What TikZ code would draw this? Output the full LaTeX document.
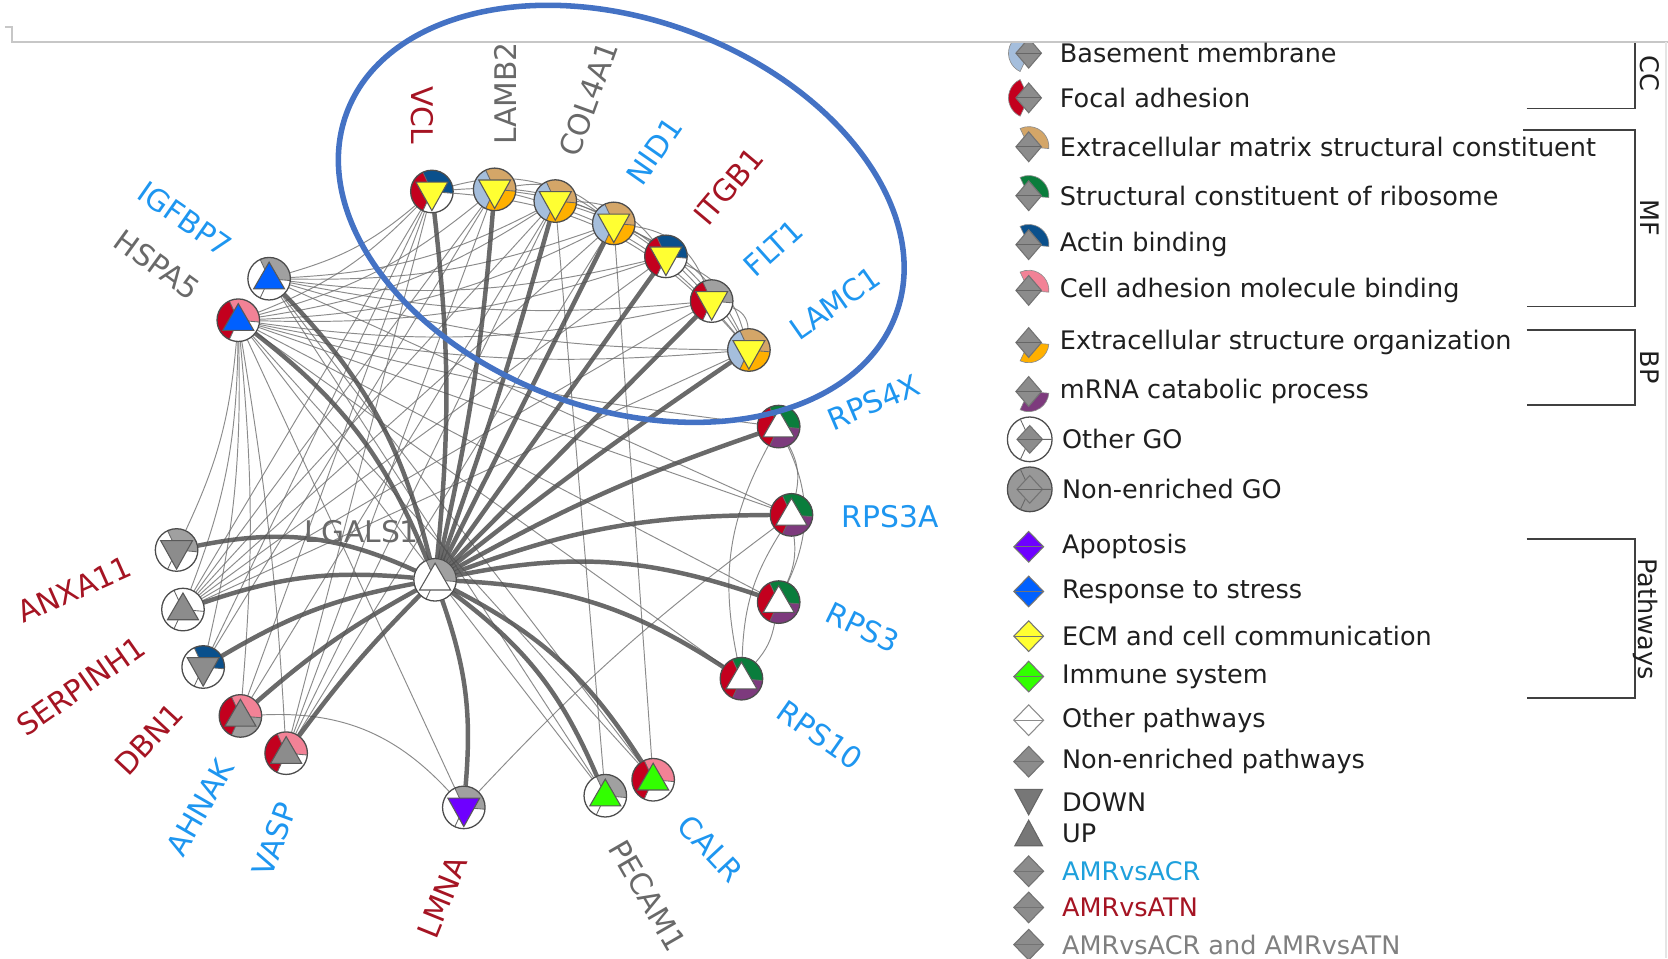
\documentclass[tikz,border=0pt]{standalone}
\usepackage{fontspec}
\setmainfont{DejaVu Sans}
\definecolor{lblue}{RGB}{30,150,240}
\definecolor{dred}{RGB}{165,20,35}
\definecolor{lgray}{RGB}{105,105,105}
\definecolor{cBM}{RGB}{165,190,220}
\definecolor{cFA}{RGB}{195,0,30}
\definecolor{cECM}{RGB}{212,166,104}
\definecolor{cRIB}{RGB}{10,125,60}
\definecolor{cACT}{RGB}{10,80,140}
\definecolor{cCAM}{RGB}{242,130,150}
\definecolor{cECS}{RGB}{255,176,0}
\definecolor{cMRNA}{RGB}{125,58,125}
\definecolor{cNE}{RGB}{160,160,160}
\definecolor{pAPO}{RGB}{110,0,255}
\definecolor{pSTR}{RGB}{0,96,255}
\definecolor{pECM}{RGB}{255,255,50}
\definecolor{pIMM}{RGB}{50,255,0}
\definecolor{pNE}{RGB}{140,140,140}
\definecolor{ellblue}{RGB}{68,114,196}
\definecolor{acr}{RGB}{30,160,220}
\definecolor{edgeA}{RGB}{110,110,110}
\definecolor{edgeB}{RGB}{80,80,80}
\tikzset{
  gn/.style={circle, minimum size=20pt, inner sep=0pt},
  thinedge/.style={draw=edgeA, line width=0.45pt, opacity=0.8},
  thickedge/.style={draw=edgeB, line width=2.1pt, opacity=0.85},
  lab/.style={font=\fontsize{14}{16}\selectfont, inner sep=0pt},
  leg/.style={font=\fontsize{12}{14}\selectfont, anchor=west, inner sep=0pt, text=black!88},
  secl/.style={draw=black!60, line width=0.4pt},
  tril/.style={draw=black!65, line width=0.5pt},
  ring/.style={draw=black!70, line width=0.6pt},
  dia/.style={fill=pNE, draw=black!55, line width=0.5pt},
  dial/.style={draw=black!60, line width=0.5pt},
  brk/.style={draw=black!75, line width=0.8pt},
  frm/.style={draw=black!22, line width=0.7pt}
}
\newcommand{\gly}[6]{%
\begin{scope}[shift={(#1.center)}, x=1pt, y=1pt]
\fill[#2] (0,0) -- (-5:10) arc[start angle=-5, end angle=115, radius=10] -- cycle;
\fill[#3] (0,0) -- (115:10) arc[start angle=115, end angle=245, radius=10] -- cycle;
\fill[#4] (0,0) -- (245:10) arc[start angle=245, end angle=355, radius=10] -- cycle;
\draw[secl] (0,0) -- (-5:10) (0,0) -- (115:10) (0,0) -- (245:10);
\if#5u\filldraw[fill=#6, tril] (0,7.8) -- (-7.3,-4.8) -- (7.3,-4.8) -- cycle;
\else\filldraw[fill=#6, tril] (-7.5,4.4) -- (7.5,4.4) -- (0,-9) -- cycle;\fi
\draw[ring] (0,0) circle[radius=10];
\end{scope}}
\newcommand{\goicon}[4]{%
\begin{scope}[shift={(967,#1)}, x=1pt, y=1pt]
\filldraw[fill=#2, draw=black!45, line width=0.3pt] (0,0) -- (#3:9.5) arc[start angle=#3, end angle=#4, radius=9.5] -- cycle;
\filldraw[dia] (0,7) -- (6,0) -- (0,-7) -- (-6,0) -- cycle;
\draw[dial] (-6,0) -- (6,0);
\end{scope}}
\newcommand{\pwicon}[3]{%
\begin{scope}[shift={(967,#1)}, x=1pt, y=1pt]
\filldraw[fill=#2, draw=#3, line width=0.5pt] (0,7.2) -- (7,0) -- (0,-7.2) -- (-7,0) -- cycle;
\draw[draw=#3, line width=0.5pt] (-7,0) -- (7,0);
\end{scope}}
\begin{document}
\begin{tikzpicture}[x=0.5pt, y=-0.5pt]
\useasboundingbox (0,0) rectangle (1568,901);
% frame lines
\draw[frm] (4.7,25.4) -- (11.3,25.4) -- (11.3,39.5) -- (1568,39.5);
\draw[draw=black!10, line width=0.6pt] (1566,39.5) -- (1566,901);
% network nodes
\foreach \n/\x/\y in {VCL/406/180, LAMB2/465/178, COL4A1/522/189, NID1/577/210, ITGB1/626/241, FLT1/669/283, LAMC1/704/329,
  IGFBP7/253/262, HSPA5/224/301, ANXA11/166/517, SERPINH1/172/573, DBN1/191/627, AHNAK/226/673, VASP/269/708,
  LMNA/436/759, PECAM1/569/748, CALR/614/733, RPS10/697/638, RPS3/732/566, RPS3A/744/484, RPS4X/732/401, LGALS1/409/545}
  \node[gn] (\n) at (\x,\y) {};
% thin edges
\foreach \a/\b/\c in {HSPA5/VCL/-12, HSPA5/LAMB2/-12, HSPA5/COL4A1/-12, HSPA5/NID1/-12, HSPA5/ITGB1/-10, HSPA5/FLT1/-10, HSPA5/LAMC1/-8,
  HSPA5/RPS4X/-4, HSPA5/RPS3A/0, HSPA5/RPS3/0, HSPA5/RPS10/0, HSPA5/LMNA/0, HSPA5/CALR/0, HSPA5/PECAM1/0,
  HSPA5/ANXA11/10, HSPA5/SERPINH1/10, HSPA5/DBN1/7, HSPA5/AHNAK/5, HSPA5/VASP/3,
  IGFBP7/VCL/-12, IGFBP7/COL4A1/-12, IGFBP7/NID1/-10, IGFBP7/ITGB1/-10, IGFBP7/FLT1/-8, IGFBP7/LAMC1/-8, IGFBP7/RPS3A/0, IGFBP7/PECAM1/0, IGFBP7/CALR/0,
  SERPINH1/VCL/0, SERPINH1/LAMB2/0, SERPINH1/COL4A1/0, SERPINH1/NID1/0, SERPINH1/ITGB1/0, SERPINH1/FLT1/0, SERPINH1/LAMC1/0,
  DBN1/VCL/0, DBN1/LAMB2/0, AHNAK/VCL/0, AHNAK/COL4A1/0, AHNAK/LMNA/25, VASP/VCL/0, VASP/LAMB2/0, VASP/COL4A1/0, VASP/NID1/0,
  PECAM1/COL4A1/0, CALR/NID1/0, LMNA/RPS3A/5,
  VCL/ITGB1/20, VCL/LAMC1/22, VCL/NID1/25, LAMB2/NID1/25, LAMB2/FLT1/20, LAMB2/LAMC1/18, COL4A1/ITGB1/25, COL4A1/LAMC1/20,
  NID1/LAMC1/20, ITGB1/LAMC1/25, FLT1/LAMC1/35, NID1/FLT1/30,
  RPS4X/RPS3A/20, RPS4X/RPS3/25, RPS4X/RPS10/-20, RPS3A/RPS3/15, RPS3A/RPS10/-15, RPS3/RPS10/15}
  \draw[thinedge] (\a) to[bend left=\c] (\b);
% thick edges
\foreach \b/\c in {VCL/-6, LAMB2/-4, COL4A1/-2, NID1/0, ITGB1/0, FLT1/0, LAMC1/2, IGFBP7/-15, HSPA5/-15, ANXA11/-18,
  SERPINH1/-12, DBN1/-10, AHNAK/-6, VASP/-4, LMNA/12, PECAM1/15, CALR/15, RPS10/15, RPS3/15, RPS3A/10, RPS4X/5}
  \draw[thickedge] (LGALS1) to[bend left=\c] (\b);
% glyphs
\gly{VCL}{cACT}{cFA}{white}{d}{pECM}
\gly{LAMB2}{cECM}{cBM}{cECS}{d}{pECM}
\gly{COL4A1}{cECM}{cBM}{cECS}{d}{pECM}
\gly{NID1}{cECM}{cBM}{cECS}{d}{pECM}
\gly{ITGB1}{cACT}{cFA}{white}{d}{pECM}
\gly{FLT1}{cNE}{cFA}{white}{d}{pECM}
\gly{LAMC1}{cECM}{cBM}{cECS}{d}{pECM}
\gly{IGFBP7}{cNE}{white}{white}{u}{pSTR}
\gly{HSPA5}{cCAM}{cFA}{white}{u}{pSTR}
\gly{ANXA11}{cNE}{white}{white}{d}{pNE}
\gly{SERPINH1}{white}{white}{white}{u}{pNE}
\gly{DBN1}{cACT}{white}{white}{d}{pNE}
\gly{AHNAK}{cCAM}{cFA}{cNE}{u}{pNE}
\gly{VASP}{cCAM}{cFA}{white}{u}{pNE}
\gly{LMNA}{cNE}{white}{white}{d}{pAPO}
\gly{PECAM1}{cNE}{white}{white}{u}{pIMM}
\gly{CALR}{cCAM}{cFA}{white}{u}{pIMM}
\gly{RPS10}{cRIB}{cFA}{cMRNA}{u}{white}
\gly{RPS3}{cRIB}{cFA}{cMRNA}{u}{white}
\gly{RPS3A}{cRIB}{cFA}{cMRNA}{u}{white}
\gly{RPS4X}{cRIB}{cFA}{cMRNA}{u}{white}
\gly{LGALS1}{cNE}{white}{white}{u}{white}
% labels
\node[lab, text=dred, rotate=-90] (tVCL) at (397,108) {VCL};
\node[lab, text=lgray, rotate=90] (tLAMB2) at (475,88) {LAMB2};
\node[lab, text=lgray, rotate=70] (tCOL4A1) at (553,93) {COL4A1};
\node[lab, text=lblue, rotate=55] (tNID1) at (615,142) {NID1};
\node[lab, text=dred, rotate=50] (tITGB1) at (685,175) {ITGB1};
\node[lab, text=lblue, rotate=42] (tFLT1) at (727,233) {FLT1};
\node[lab, text=lblue, rotate=35] (tLAMC1) at (785,285) {LAMC1};
\node[lab, text=lblue, rotate=-35] (tIGFBP7) at (174,206) {IGFBP7};
\node[lab, text=lgray, rotate=-36] (tHSPA5) at (148,249) {HSPA5};
\node[lab, text=dred, rotate=24] (tANXA11) at (70,554) {ANXA11};
\node[lab, text=dred, rotate=35] (tSERPINH1) at (76,645) {SERPINH1};
\node[lab, text=dred, rotate=47] (tDBN1) at (140,695) {DBN1};
\node[lab, text=lblue, rotate=60] (tAHNAK) at (188,759) {AHNAK};
\node[lab, text=lblue, rotate=70] (tVASP) at (258,789) {VASP};
\node[lab, text=dred, rotate=68] (tLMNA) at (416,843) {LMNA};
\node[lab, text=lgray, rotate=-60] (tPECAM1) at (609,842) {PECAM1};
\node[lab, text=lblue, rotate=-47] (tCALR) at (668,798) {CALR};
\node[lab, text=lblue, rotate=-35] (tRPS10) at (771,691) {RPS10};
\node[lab, text=lblue, rotate=-26] (tRPS3) at (811,590) {RPS3};
\node[lab, text=lblue] (tRPS3A) at (837,486) {RPS3A};
\node[lab, text=lblue, rotate=23] (tRPS4X) at (821,378) {RPS4X};
\node[lab, text=lgray] (tLGALS1) at (340,500) {LGALS1};
% highlight ellipse
\draw[ellblue, line width=2.6pt, rotate around={-20:(584,201)}] (584,201) ellipse [x radius=275, y radius=183];
% legend icons
\begin{scope}
\clip (900,40.5) rectangle (1568,901);
\goicon{50}{cBM}{115}{245}
\end{scope}
\goicon{92}{cFA}{115}{245}
\goicon{138}{cECM}{-5}{115}
\goicon{184}{cRIB}{-5}{115}
\goicon{230}{cACT}{-5}{115}
\goicon{273}{cCAM}{-5}{115}
\goicon{322}{cECS}{245}{355}
\goicon{368}{cMRNA}{245}{355}
\begin{scope}[shift={(968,413)}, x=1pt, y=1pt]
\draw[ring, fill=white] (0,0) circle[radius=10.5];
\draw[secl] (0,0) -- (115:10.5) (0,0) -- (245:10.5) (0,0) -- (0:10.5);
\filldraw[dia] (0,6.5) -- (6,0) -- (0,-6.5) -- (-6,0) -- cycle;
\draw[dial] (-6,0) -- (10.5,0);
\end{scope}
\begin{scope}[shift={(968,460)}, x=1pt, y=1pt]
\draw[ring, fill=cNE!95!black] (0,0) circle[radius=10.5];
\draw[secl] (0,0) -- (115:10.5) (0,0) -- (245:10.5) (0,0) -- (0:10.5);
\filldraw[dia, fill=cNE!95!black] (0,6.5) -- (6,0) -- (0,-6.5) -- (-6,0) -- cycle;
\draw[dial] (-6,0) -- (10.5,0);
\end{scope}
\pwicon{514}{pAPO}{black!55}
\pwicon{556}{pSTR}{black!55}
\pwicon{598}{pECM}{black!55}
\pwicon{636}{pIMM}{black!55}
\pwicon{677}{white}{black!45}
\pwicon{716}{pNE}{black!55}
\begin{scope}[shift={(967,754)}, x=1pt, y=1pt]
\filldraw[fill=pNE!85!black, draw=black!60, line width=0.5pt] (-6.5,6) -- (6.5,6) -- (0,-6) -- cycle;
\end{scope}
\begin{scope}[shift={(967,783)}, x=1pt, y=1pt]
\filldraw[fill=pNE!85!black, draw=black!60, line width=0.5pt] (-6.5,-6) -- (6.5,-6) -- (0,6) -- cycle;
\end{scope}
\pwicon{819}{pNE}{black!55}
\pwicon{853}{pNE}{black!55}
\pwicon{888}{pNE}{black!55}
% legend texts
\node[leg] (g1) at (996,50) {Basement membrane};
\node[leg] (g2) at (996,92) {Focal adhesion};
\node[leg] (g3) at (996,138) {Extracellular matrix structural constituent};
\node[leg] (g4) at (996,184) {Structural constituent of ribosome};
\node[leg] (g5) at (996,230) {Actin binding};
\node[leg] (g6) at (996,273) {Cell adhesion molecule binding};
\node[leg] (g7) at (996,322) {Extracellular structure organization};
\node[leg] (g8) at (996,368) {mRNA catabolic process};
\node[leg] (g9) at (998,413) {Other GO};
\node[leg] (g10) at (998,460) {Non-enriched GO};
\node[leg] (p1) at (998,514) {Apoptosis};
\node[leg] (p2) at (998,556) {Response to stress};
\node[leg] (p3) at (998,598) {ECM and cell communication};
\node[leg] (p4) at (998,636) {Immune system};
\node[leg] (p5) at (998,677) {Other pathways};
\node[leg] (p6) at (998,716) {Non-enriched pathways};
\node[leg] (d1) at (998,754) {DOWN};
\node[leg] (d2) at (998,783) {UP};
\node[leg, text=acr] (c1) at (998,819) {AMRvsACR};
\node[leg, text=dred] (c2) at (998,853) {AMRvsATN};
\node[leg, text=black!50] (c3) at (998,888) {AMRvsACR and AMRvsATN};
% brackets
\draw[brk] (1435,102) -- (1537,102) -- (1537,40);
\draw[brk] (1432,122) -- (1537,122) -- (1537,288) -- (1435,288);
\draw[brk] (1435,310) -- (1537,310) -- (1537,381) -- (1435,381);
\draw[brk] (1435,507) -- (1537,507) -- (1537,656) -- (1435,656);
\node[leg, anchor=base, rotate=-90] (bCC) at (1542,69) {CC};
\node[leg, anchor=base, rotate=-90] (bMF) at (1542,205) {MF};
\node[leg, anchor=base, rotate=-90] (bBP) at (1542,345) {BP};
\node[leg, anchor=base, rotate=-90] (bPW) at (1540,582) {Pathways};
\end{tikzpicture}
\end{document}
